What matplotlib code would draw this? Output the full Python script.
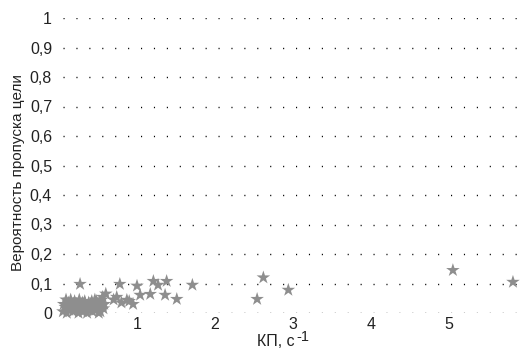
import numpy as np
from matplotlib import pyplot as plt

plt.rcParams['font.family'] = ['Liberation Sans', 'DejaVu Sans']

# dense cluster near zero
kp_cluster = [0.05, 0.08, 0.10, 0.12, 0.13, 0.15, 0.16, 0.18, 0.20, 0.21,
              0.23, 0.25, 0.26, 0.28, 0.30, 0.31, 0.33, 0.35, 0.36, 0.38,
              0.40, 0.42, 0.43, 0.45, 0.47, 0.48, 0.50, 0.52, 0.53, 0.55,
              0.57, 0.58, 0.60, 0.06, 0.09, 0.19, 0.27, 0.39, 0.46, 0.51]
p_cluster = [0.005, 0.020, 0.000, 0.035, 0.010, 0.045, 0.025, 0.005, 0.040, 0.015,
             0.030, 0.000, 0.045, 0.020, 0.035, 0.005, 0.040, 0.020, 0.000, 0.035,
             0.015, 0.040, 0.005, 0.030, 0.010, 0.040, 0.020, 0.035, 0.005, 0.045,
             0.015, 0.030, 0.065, 0.030, 0.045, 0.030, 0.010, 0.025, 0.045, 0.000]

# scattered points
kp_other = [0.27, 0.56, 0.56, 0.70, 0.74, 0.78, 0.80, 0.87, 0.90, 0.95,
            1.00, 1.04, 1.17, 1.21, 1.27, 1.36, 1.38, 1.51, 1.71,
            2.54, 2.62, 2.94, 5.05, 5.82]
p_other = [0.098, 0.054, 0.027, 0.045, 0.054, 0.098, 0.035, 0.044, 0.040, 0.030,
           0.092, 0.061, 0.064, 0.108, 0.095, 0.061, 0.108, 0.047, 0.095,
           0.047, 0.120, 0.078, 0.145, 0.105]

kp = kp_cluster + kp_other
p = p_cluster + p_other

y_ticks = [0, 0.1, 0.2, 0.3, 0.4, 0.5, 0.6, 0.7, 0.8, 0.9, 1.0]
y_labels = ['0', '0,1', '0,2', '0,3', '0,4', '0,5', '0,6', '0,7', '0,8', '0,9', '1']
x_ticks = [1, 2, 3, 4, 5, 6]

fig = plt.figure(figsize=(5.21, 3.5), dpi=100)
ax = fig.add_axes([59/521, 37/350, 468/521, 295/350])

# dotted horizontal grid
for yv in y_ticks:
    ax.plot([0.05, 6], [yv, yv], color='black', linewidth=1.0,
            linestyle=(0, (0.8, 8.5)), zorder=1)

ax.scatter(kp, p, marker='*', s=105, color='#8e8e8e', edgecolors='none',
           zorder=3, clip_on=False)

ax.set_xlim(0, 6)
ax.set_ylim(0, 1)
for s in ax.spines.values():
    s.set_visible(False)
ax.set_yticks(y_ticks)
ax.set_yticklabels(y_labels)
ax.set_xticks(x_ticks)
ax.tick_params(length=0, labelsize=11.5, colors='#222222')
ax.tick_params(axis='x', pad=3)
ax.tick_params(axis='y', pad=5)

ax.set_ylabel('Вероятность пропуска цели', fontsize=11, color='#222222')
ax.yaxis.set_label_coords(-0.072, 0.475)

# x label with a large superscript, as in the original
fig.text(257/521, 1 - 346/350, 'КП, с', fontsize=11.5, color='#222222',
         va='baseline', ha='left')
fig.text(296/521, 1 - 341/350, '-1', fontsize=10.5, color='#222222',
         va='baseline', ha='left')

fig.savefig('out.png', dpi=100)
